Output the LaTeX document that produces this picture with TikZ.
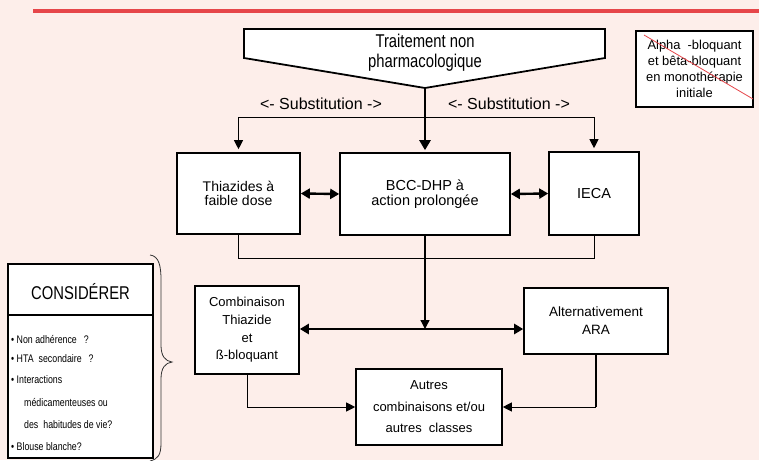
\documentclass[tikz,border=0pt]{standalone}
\usepackage{fontspec}
\setmainfont{Liberation Sans}
\newfontfamily\narrowsans{Liberation Sans}[FakeStretch=0.8]
\usetikzlibrary{arrows.meta}
\definecolor{bgpink}{RGB}{253,238,234}
\definecolor{rulered}{RGB}{230,70,74}

\begin{document}
\begin{tikzpicture}[x=1pt, y=-1pt,
  box/.style={draw, fill=white, line width=1.6pt, align=center, inner sep=0pt},
  link/.style={line width=0.9pt},
  heavy/.style={line width=2.4pt},
  tip/.style={-{Triangle[length=9pt, width=9pt]}},
  bigtip/.style={-{Triangle[length=10pt, width=11pt]}},
  both/.style={{Triangle[length=9pt, width=10pt]}-{Triangle[length=9pt, width=10pt]}},
  boxtext/.style={font=\fontsize{14.5}{15}\selectfont},
  smalltext/.style={font=\fontsize{13}{17.7}\selectfont},
  itemtext/.style={anchor=west, inner sep=0pt, font=\narrowsans\fontsize{11}{12}\selectfont},
]
  % Background and top rule
  \useasboundingbox (0,0) rectangle (759,460);
  \fill[bgpink] (0,0) rectangle (759,460);
  \draw[rulered, line width=3.5pt] (33,11) -- (759,11);

  % Non pharmacological treatment (pentagon)
  \coordinate (apex) at (425,88);
  \draw[fill=white, line width=1.8pt] (244,29) -- (605,29) -- (605,58) -- (apex) -- (244,58) -- cycle;
  \node[align=center, font=\narrowsans\fontsize{18.5}{20}\selectfont] (treat) at (425,53)
    {Traitement non\\pharmacologique};

  % Crossed-out box
  \node[box, line width=1.3pt, minimum width=117pt, minimum height=76pt,
        font=\fontsize{12.9}{16}\selectfont] (alpha) at (694.5,69)
    {Alpha~ -bloquant\\et bêta-bloquant\\en monothérapie\\initiale};
  \draw[rulered, line width=0.8pt] (644,35) -- (753,99);

  % First line boxes
  \node[box, boxtext, minimum width=123pt, minimum height=81pt, font=\fontsize{14}{13.5}\selectfont] (thz) at (238.5,193.5)
    {Thiazides à\\faible dose};
  \node[box, boxtext, minimum width=170pt, minimum height=82pt] (bcc) at (425,194)
    {BCC-DHP à\\action prolongée};
  \node[box, boxtext, minimum width=90pt, minimum height=83pt] (ieca) at (594,193.5) {IECA};

  % Substitution
  \coordinate (subL) at (238.5,117);
  \coordinate (subR) at (594,117);
  \node[font=\fontsize{16}{18}\selectfont] (substL) at (321,104) {<- Substitution ->};
  \node[font=\fontsize{16}{18}\selectfont] (substR) at (509,104) {<- Substitution ->};
  \draw[link] (subL) -- (subR);
  \draw[link, tip, shorten >=3pt] (subL) -- (thz.north);
  \draw[link, tip, shorten >=3pt] (subR) -- (ieca.north);
  \draw[heavy, bigtip, shorten >=2pt] (apex) -- (bcc.north);

  % Side arrows
  \draw[heavy, both] (thz.east) -- (bcc.west);
  \draw[heavy, both] (bcc.east) -- (ieca.west);

  % Second line boxes
  \node[box, smalltext, minimum width=104pt, minimum height=88pt] (comb) at (247,330)
    {Combinaison\\Thiazide\\et\\ß-bloquant};
  \node[box, minimum width=144pt, minimum height=66pt, font=\fontsize{13.5}{18}\selectfont] (alt) at (596,321)
    {Alternativement\\ARA};
  \node[box, minimum width=146pt, minimum height=76pt, font=\fontsize{13}{21.5}\selectfont] (other) at (429,407)
    {Autres\\combinaisons et/ou\\autres~ classes};

  % Collector
  \coordinate (join) at (425,258);
  \coordinate (split) at (425,329);
  \draw[link] (thz.south) -- (thz.south |- join) -- (ieca.south |- join) -- (ieca.south);
  \draw[link, line width=1.3pt, tip] (bcc.south) -- (split);
  \draw[heavy, both] (comb.east |- split) -- (alt.west |- split);

  % To other combinations
  \draw[link, tip] (comb.south) |- (other.west);
  \draw[link, line width=1.3pt] (alt.south) -- (alt.south |- other.east);
  \draw[link, tip] (alt.south |- other.east) -- (other.east);

  % Consider box
  \node[box, minimum width=145pt, minimum height=194pt] (consider) at (80.5,361) {};
  \draw[line width=1.6pt] (consider.west |- 0,315) -- (consider.east |- 0,315);
  \node[font=\narrowsans\fontsize{18.5}{20}\selectfont] (considtitle) at (80.5,292) {CONSIDÉRER};
  \node[itemtext] (item1) at (11,339) {• Non adhérence\hspace{7pt}?};
  \node[itemtext] (item2) at (11,359) {• HTA\hspace{5pt}secondaire\hspace{7pt}?};
  \node[itemtext] (item3) at (11,380) {• Interactions};
  \node[itemtext] (item3b) at (24,402) {médicamenteuses ou};
  \node[itemtext] (item3c) at (24,425) {des\hspace{5pt}habitudes de vie?};
  \node[itemtext] (item4) at (11,447) {• Blouse blanche?};

  % Brace
  \draw[line width=0.8pt, black!80] (150,255) .. controls (159,256) and (161,266) .. (161,280)
    -- (161,345) .. controls (161,356) and (165,361) .. (172,362)
    .. controls (165,363) and (161,368) .. (161,379)
    -- (161,443) .. controls (161,455) and (158,459) .. (150,461);

\end{tikzpicture}
\end{document}
